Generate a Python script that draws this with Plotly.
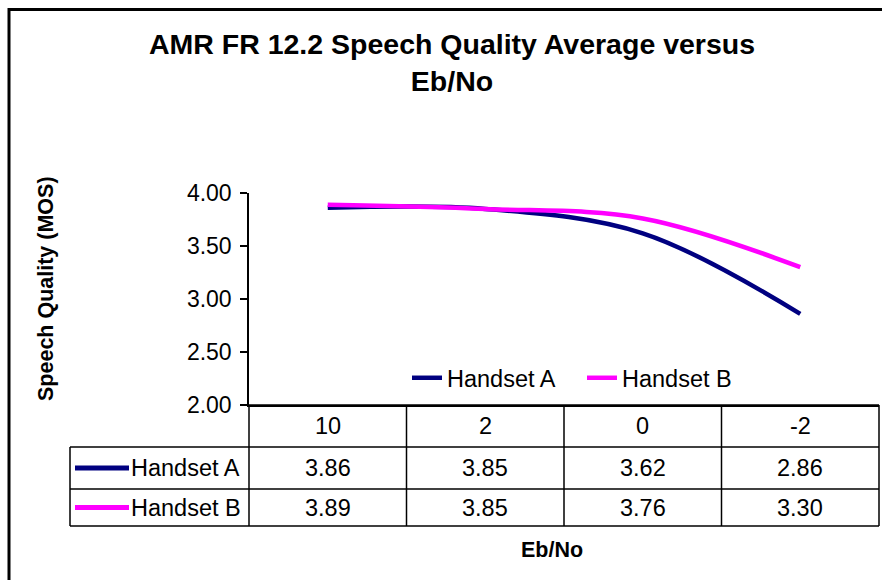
import plotly.graph_objects as go

# ---- data ----
categories = ["10", "2", "0", "-2"]
series_names = ["Handset A", "Handset B"]
handset_a = [3.86, 3.85, 3.62, 2.86]
handset_b = [3.89, 3.85, 3.76, 3.30]
series_colors = ["#000080", "#FF00FF"]
y_ticks = [2.0, 2.5, 3.0, 3.5, 4.0]

title_text = "AMR FR 12.2 Speech Quality Average versus<br>Eb/No"
y_title = "Speech Quality (MOS)"
x_title = "Eb/No"

FONT = "Liberation Sans, Arial, sans-serif"
W, H = 882, 580
OFF = 0  # page body margin removed via post_script
# plot area in screen pixels
SX0, SX1, SY0, SY1 = 249, 879, 193, 405
ML, MR = SX0 - OFF, W - (SX1 - OFF)
MT, MB = SY0 - OFF, H - (SY1 - OFF)
PW = SX1 - SX0
PH = SY1 - SY0


def px_x(px):
    return (px - SX0) / PW


def px_y(py):
    return (SY1 - py) / PH


series_values = [handset_a, handset_b]
xs = list(range(len(categories)))

fig = go.Figure()
for name, vals, col in zip(series_names, series_values, series_colors):
    fig.add_trace(go.Scatter(
        x=xs, y=vals, name=name, mode="lines",
        line=dict(color=col, width=4.5, shape="spline", smoothing=1.0),
    ))

# ---- data table below the plot ----
row_edges_px = [405, 447, 489, 526]
row_edges = [px_y(p) for p in row_edges_px]
label_left = px_x(70)
shapes = []
line_style = dict(color="black", width=1.5)
shapes.append(dict(type="line", xref="paper", yref="paper", x0=0, x1=1,
                   y0=row_edges[0], y1=row_edges[0], line=line_style))
for ry in row_edges[1:]:
    shapes.append(dict(type="line", xref="paper", yref="paper", x0=label_left, x1=1,
                       y0=ry, y1=ry, line=line_style))
n = len(categories)
for i in range(n + 1):
    xb = i / n
    shapes.append(dict(type="line", xref="paper", yref="paper", x0=xb, x1=xb,
                       y0=row_edges[0], y1=row_edges[-1], line=line_style))
shapes.append(dict(type="line", xref="paper", yref="paper", x0=label_left, x1=label_left,
                   y0=row_edges[1], y1=row_edges[-1], line=line_style))

TFS = 23.5
annotations = []
hdr_y = (row_edges[0] + row_edges[1]) / 2
for i, c in enumerate(categories):
    annotations.append(dict(x=i, y=hdr_y, xref="x", yref="paper", text=c,
                            xanchor="center", yanchor="middle",
                            showarrow=False, font=dict(size=TFS, color="black", family=FONT)))
for r, (name, vals, col) in enumerate(zip(series_names, series_values, series_colors)):
    ry = (row_edges[r + 1] + row_edges[r + 2]) / 2
    for i, v in enumerate(vals):
        annotations.append(dict(x=i, y=ry, xref="x", yref="paper", text=f"{v:.2f}",
                                xanchor="center", yanchor="middle",
                                showarrow=False, font=dict(size=TFS, color="black", family=FONT)))
    shapes.append(dict(type="line", xref="paper", yref="paper", x0=px_x(75), x1=px_x(129),
                       y0=ry, y1=ry, line=dict(color=col, width=5)))
    annotations.append(dict(x=px_x(129), y=ry, xref="paper", yref="paper", text=name,
                            xanchor="left", yanchor="middle", showarrow=False,
                            font=dict(size=TFS, color="black", family=FONT)))

# axis titles
annotations.append(dict(x=px_x(46), y=px_y(289), xref="paper", yref="paper", text=y_title,
                        textangle=-90, xanchor="center", yanchor="middle", showarrow=False,
                        font=dict(size=21.5, family=FONT, color="black", weight="bold")))
annotations.append(dict(x=px_x(552), y=px_y(550), xref="paper", yref="paper", text=x_title,
                        xanchor="center", yanchor="middle", showarrow=False,
                        font=dict(size=21.5, family=FONT, color="black", weight="bold")))

# outer border of chart
shapes.append(dict(type="rect", xref="paper", yref="paper",
                   x0=px_x(9), x1=px_x(895), y0=px_y(9.5), y1=px_y(600),
                   line=dict(color="black", width=3), layer="below"))

TITLE_CENTER = 54  # screen px (plotly's middle anchor of the 2-line title)
fig.update_layout(
    width=W, height=H,
    margin=dict(l=ML, r=MR, t=MT, b=MB, autoexpand=False),
    paper_bgcolor="white", plot_bgcolor="white",
    font=dict(family=FONT, color="black", size=TFS),
    title=dict(text=title_text, x=(452 - OFF) / W, xanchor="center", xref="container",
               y=1 - (TITLE_CENTER - OFF) / H, yanchor="middle", yref="container",
               font=dict(size=28.5, family=FONT, color="black", weight="bold")),
    showlegend=True,
    legend=dict(orientation="h", x=px_x(407), xanchor="left", y=px_y(378), yanchor="middle",
                bgcolor="rgba(0,0,0,0)", font=dict(size=TFS, family=FONT, color="black"),
                entrywidth=130, entrywidthmode="pixels", itemclick=False),
    xaxis=dict(range=[-0.5, n - 0.5], showgrid=False, zeroline=False, showticklabels=False,
               ticks="", showline=True, linecolor="black", linewidth=1.5, fixedrange=True),
    yaxis=dict(range=[2, 4], tickvals=y_ticks, tickformat=".2f", showgrid=False, zeroline=False,
               ticks="outside", ticklen=7, tickwidth=1.5, tickcolor="black",
               showline=True, linecolor="black", linewidth=1.5, ticklabelstandoff=4,
               tickfont=dict(size=23, family=FONT, color="black")),
    shapes=shapes,
    annotations=annotations,
)

fig.write_html(
    "out.html",
    config=dict(displayModeBar=False),
    post_script="document.body.style.margin='0px';document.documentElement.style.overflow='hidden';",
)
